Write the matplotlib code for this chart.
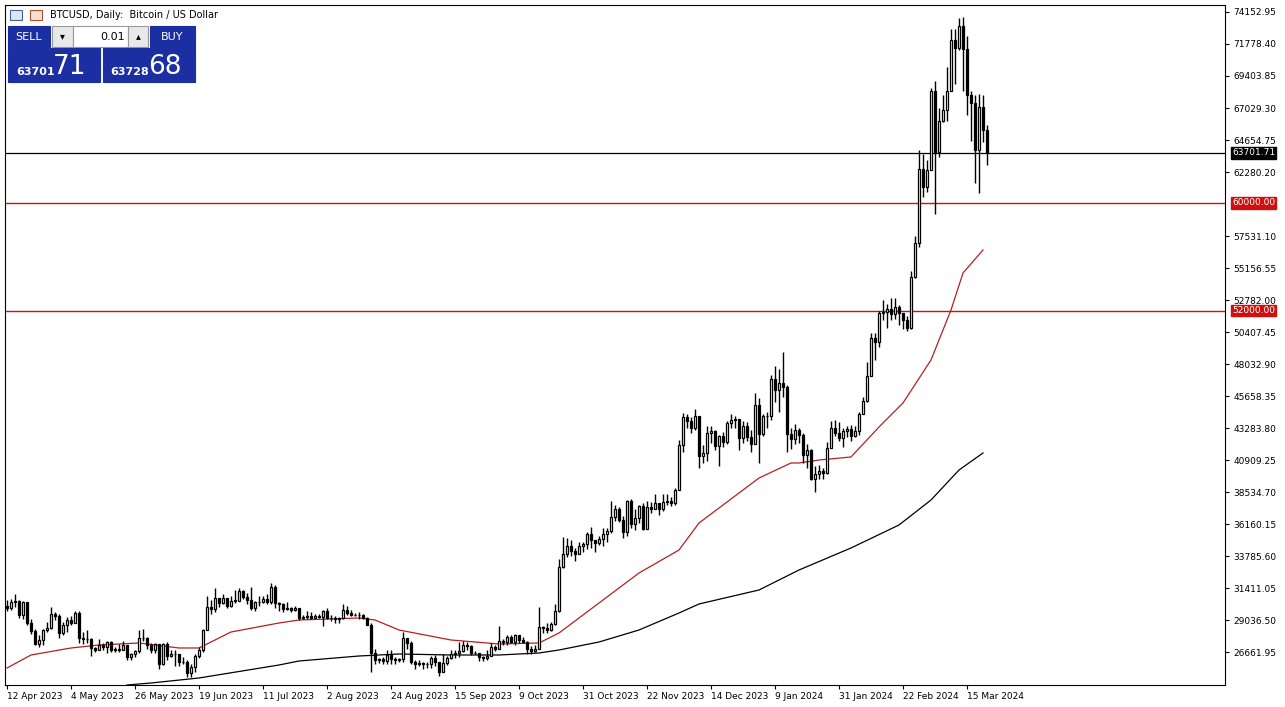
import matplotlib
matplotlib.use("Agg")
import matplotlib.pyplot as plt
from matplotlib.patches import Rectangle
import numpy as np

closes = [29900,30400,30480,29430,30380,28800,28250,27270,27520,28300,28420,29480,29330,28080,28680,29030,
 28850,29530,27700,27630,27620,26990,26800,27180,27030,27400,26830,26890,26850,27220,26330,26480,
 26720,27700,27700,27220,26820,27250,25740,27240,26340,26500,26480,25900,25920,25120,25580,26340,
 26840,28310,30000,29890,30690,30270,30690,30080,30450,30480,31160,30770,30510,29900,30350,30410,
 30620,30390,31480,30330,30240,29860,29920,29800,29910,29180,29230,29350,29220,29310,29230,29700,
 29170,29180,29080,29180,29770,29580,29430,29400,29410,29170,28700,26620,26050,26120,25990,26430,
 26160,26050,26110,27730,27300,25940,25800,25820,25770,25750,26240,25900,25160,25840,26230,26540,
 26600,26760,27210,27130,26570,26580,26300,26220,26370,27030,26910,27500,27430,27790,27410,27930,
 27590,27390,26870,26750,26860,28520,28410,28330,28720,29680,33000,33920,34500,34160,33910,34500,
 34650,35420,34940,34730,35030,35420,35630,36700,37310,36490,35550,37880,36170,36600,37480,35800,
 37420,37300,37720,37250,37830,37850,37720,38690,41990,44080,43770,43290,44170,41240,41450,42890,
 43030,41930,42660,42260,43660,43860,43990,42520,43450,42590,42070,45000,42850,44150,44150,46950,
 46100,46630,46350,42850,42500,43130,42740,41270,41620,39500,39850,40080,39930,41810,43300,42950,
 42580,43080,43180,42700,43090,44340,45290,47130,49950,49700,51800,51900,52150,51780,52270,51850,
 51300,50730,54500,57000,62500,61200,62400,68300,63800,66100,66900,68300,72100,71500,73100,71400,
 68000,67400,63900,67100,65400,63702]
highs = [30500,30600,31000,30550,30470,30400,29100,28400,27900,28400,28880,30000,29600,29450,28900,29260,
 29300,29680,29700,28150,28300,27700,27000,27650,27300,27500,27450,27000,27250,27450,27200,26600,
 26800,28300,28400,27800,27350,27350,27200,27350,27400,26800,26800,26200,26300,26100,25800,26500,
 27000,28400,30800,30500,31400,30700,31000,30700,30800,31250,31400,31300,31050,31500,30450,30800,
 30800,30950,31800,31600,30400,30300,30400,30000,30100,29950,29400,29700,29600,29500,29500,29750,
 29950,29400,29300,29250,30200,30100,29750,29550,29600,29450,29250,28850,26900,26250,26300,26800,
 26800,26300,26200,28150,27600,27500,26100,26100,25950,25900,26400,26450,25900,26500,26400,26800,
 26800,27400,27450,27400,27150,26750,26600,26400,26800,27300,27200,28600,27600,27950,27900,28000,
 27950,27750,27500,27100,27200,30000,28600,28800,28900,30200,33600,35200,35100,35000,34400,34800,
 34800,35550,35950,34900,35250,35900,35900,37900,37550,37400,36750,37950,38000,37300,37600,37700,
 37900,37800,38400,37600,38400,38400,38150,38800,42400,44400,44300,44100,44700,43500,42050,43450,
 43450,43100,42800,43000,43800,44300,44200,43650,43800,43700,43100,45900,45500,44300,44450,47200,
 47900,47700,48900,46500,43300,43550,43300,42950,42100,41700,40500,40550,40300,42250,43800,43850,
 43700,43300,43450,43500,43400,44500,45600,48150,50300,50300,52000,52800,52500,52900,52900,52400,
 51800,51600,54950,57500,63900,63600,63200,68500,69000,67000,68000,70100,72900,72900,73700,73800,
 72400,68300,68000,68100,68000,65800]
lows = [29700,29800,30000,29200,29100,28650,28000,27150,27050,27200,28120,28350,29050,27700,27900,28180,
 28700,28850,27300,27250,27350,26400,26650,26800,26850,26600,26700,26650,26700,26820,26100,26100,
 26300,26600,27450,26900,26600,26600,25400,25700,26100,26300,25600,25650,25750,24800,24800,25150,
 26250,26700,28300,29500,29600,30000,30200,29950,30000,30300,30500,30600,30200,29800,29700,30050,
 30300,30200,30250,29950,29700,29600,29750,29600,29700,29050,29100,29150,29100,29200,29200,28600,
 29100,28950,28800,28800,29100,29400,29350,29300,29100,29100,28700,25200,25800,25850,25800,25800,
 25800,25750,25900,25950,26900,25800,25400,25600,25400,25500,25500,25650,24900,25200,25700,26150,
 26200,26300,26700,26850,26450,26500,26000,26000,26100,26350,26750,27050,27200,27200,27300,27200,
 27300,27300,26550,26550,26700,26900,28100,28100,28200,28700,29650,32900,33700,33800,33400,33900,
 34100,34300,34400,34100,34600,34500,34850,35500,36400,36300,35100,35300,35900,35700,36200,35700,
 35800,37000,37500,36800,37150,37600,37500,37600,39200,41500,43300,42900,43100,40300,40700,40800,
 42200,41650,40500,41900,42100,43300,43300,41650,42200,42300,41500,44300,40700,42700,43300,43900,
 45250,44450,45600,41500,41700,42100,42200,40700,40300,39400,38500,39500,39500,39900,41800,42700,
 42300,41900,42600,42300,42600,42800,44300,45250,47700,48300,49300,51300,50700,51300,51400,50900,
 50600,50500,50600,54400,56700,60400,60800,62400,59200,63400,66000,66100,68500,68800,71300,68300,
 66500,64600,61500,60700,64500,62800]
first_open = 30100

ma_red_bars = [0,6,16,23,33,43,48,56,68,73,88,92,98,111,123,133,138,148,158,168,173,183,188,196,198,203,211,218,224,231,236,239,244]
ma_red_vals = [25478,26442,26962,27184,27333,26962,26962,28149,28817,29039,29188,29039,28297,27555,27259,27333,28075,30301,32527,34233,36237,38463,39576,40689,40689,40911,41134,43360,45141,48331,52041,54787,56493]
ma_blk_bars = [30,36,48,68,73,88,98,111,123,133,138,148,158,168,173,188,198,211,223,231,238,244]
ma_blk_vals = [24216,24365,24736,25700,25997,26368,26517,26442,26442,26590,26813,27407,28297,29559,30227,31265,32749,34382,36088,37943,40169,41431]

date_labels = ["12 Apr 2023","4 May 2023","26 May 2023","19 Jun 2023","11 Jul 2023","2 Aug 2023","24 Aug 2023",
 "15 Sep 2023","9 Oct 2023","31 Oct 2023","22 Nov 2023","14 Dec 2023","9 Jan 2024","31 Jan 2024","22 Feb 2024","15 Mar 2024"]
price_ticks = [74152.95,71778.40,69403.85,67029.30,64654.75,62280.20,57531.10,55156.55,52782.00,50407.45,48032.90,
 45658.35,43283.80,40909.25,38534.70,36160.15,33785.60,31411.05,29036.50,26661.95]
levels = [60000.00, 52000.00]
current = 63701.71
bid, ask = "63701", "63728"
bid_big, ask_big = "71", "68"

W, H = 1285, 707
fig = plt.figure(figsize=(W/100, H/100), dpi=100)
fig.patch.set_facecolor("white")
ax = fig.add_axes([5/W, 1-685/H, 1220/W, 680/H])
ymin, ymax = 24216, 74672
ax.set_ylim(ymin, ymax)
ax.set_xlim(-0.5, 304.5)

n = len(closes)
opens = [first_open] + closes[:-1]
for i in range(n):
    o, c, h, l = opens[i], closes[i], highs[i], lows[i]
    ax.vlines(i, l, h, color="black", lw=1, zorder=2)
    bot, top = min(o, c), max(o, c)
    if top - bot < 40:
        top = bot + 40
    ax.add_patch(Rectangle((i-0.33, bot), 0.66, top-bot, facecolor="white" if c >= o else "black",
                           edgecolor="black", lw=0.9, zorder=3))

ax.plot(ma_red_bars, ma_red_vals, color="#b52020", lw=0.9, zorder=1)
ax.plot(ma_blk_bars, ma_blk_vals, color="black", lw=0.9, zorder=1)
for lv in levels:
    ax.axhline(lv, color="#d01010", lw=1, zorder=1)
ax.axhline(current, color="black", lw=0.9, zorder=1)

ax.set_xticks([16*k for k in range(len(date_labels))])
ax.set_xticklabels(date_labels, fontsize=6.5, ha="left")
ax.tick_params(axis="x", length=3, pad=2)
ax.yaxis.tick_right()
ax.set_yticks(price_ticks)
ax.set_yticklabels([f"{p:.2f}" for p in price_ticks], fontsize=6.5)
ax.tick_params(axis="y", length=3, pad=3)
for s in ax.spines.values():
    s.set_color("black"); s.set_linewidth(0.8)

def ybox(val, fc, tc):
    ax.annotate(f"{val:.2f}", xy=(1, val), xycoords=("axes fraction", "data"), xytext=(5, 0),
                textcoords="offset points", fontsize=6.5, color=tc, va="center", ha="left",
                bbox=dict(boxstyle="square,pad=0.15", fc=fc, ec=fc), annotation_clip=False)
ybox(current, "black", "white")
for lv in levels:
    ybox(lv, "#d01010", "white")

# header
fig.text(50/W, 1-15/H, "BTCUSD, Daily:  Bitcoin / US Dollar", fontsize=7, va="center")
fig.patches.append(Rectangle((10/W, 1-20/H), 12/W, 10/H, transform=fig.transFigure, fc="#dde6f5", ec="#44619c", lw=0.8))
fig.patches.append(Rectangle((30/W, 1-20/H), 12/W, 10/H, transform=fig.transFigure, fc="#f5e0d0", ec="#b05030", lw=0.8))

blue = "#1b2fa3"
def box(x0, y0, x1, y1, fc, ec=None):
    fig.patches.append(Rectangle((x0/W, 1-y1/H), (x1-x0)/W, (y1-y0)/H, transform=fig.transFigure,
                                 fc=fc, ec=ec if ec else fc, lw=0.8))
box(8, 26, 50, 47, blue)
box(52, 26, 73, 47, "#e8e8e8", "#999999")
box(73, 26, 128, 47, "white", "#999999")
box(128, 26, 148, 47, "#e8e8e8", "#999999")
box(150, 26, 195, 47, blue)
box(8, 48, 100, 82, blue)
box(103, 48, 195, 82, blue)
fig.text(29/W, 1-37/H, "SELL", color="white", fontsize=8, ha="center", va="center")
fig.text(172/W, 1-37/H, "BUY", color="white", fontsize=8, ha="center", va="center")
fig.text(125/W, 1-37/H, "0.01", color="black", fontsize=8, ha="right", va="center")
fig.text(62/W, 1-36/H, "▾", color="black", fontsize=7, ha="center", va="center")
fig.text(138/W, 1-36/H, "▴", color="black", fontsize=7, ha="center", va="center")
fig.text(16/W, 1-72/H, bid, color="white", fontsize=8, fontweight="bold", va="center")
fig.text(53/W, 1-67/H, bid_big, color="white", fontsize=19, va="center")
fig.text(110/W, 1-72/H, ask, color="white", fontsize=8, fontweight="bold", va="center")
fig.text(148/W, 1-67/H, ask_big, color="white", fontsize=19, va="center")

fig.savefig("out.png", dpi=100)
